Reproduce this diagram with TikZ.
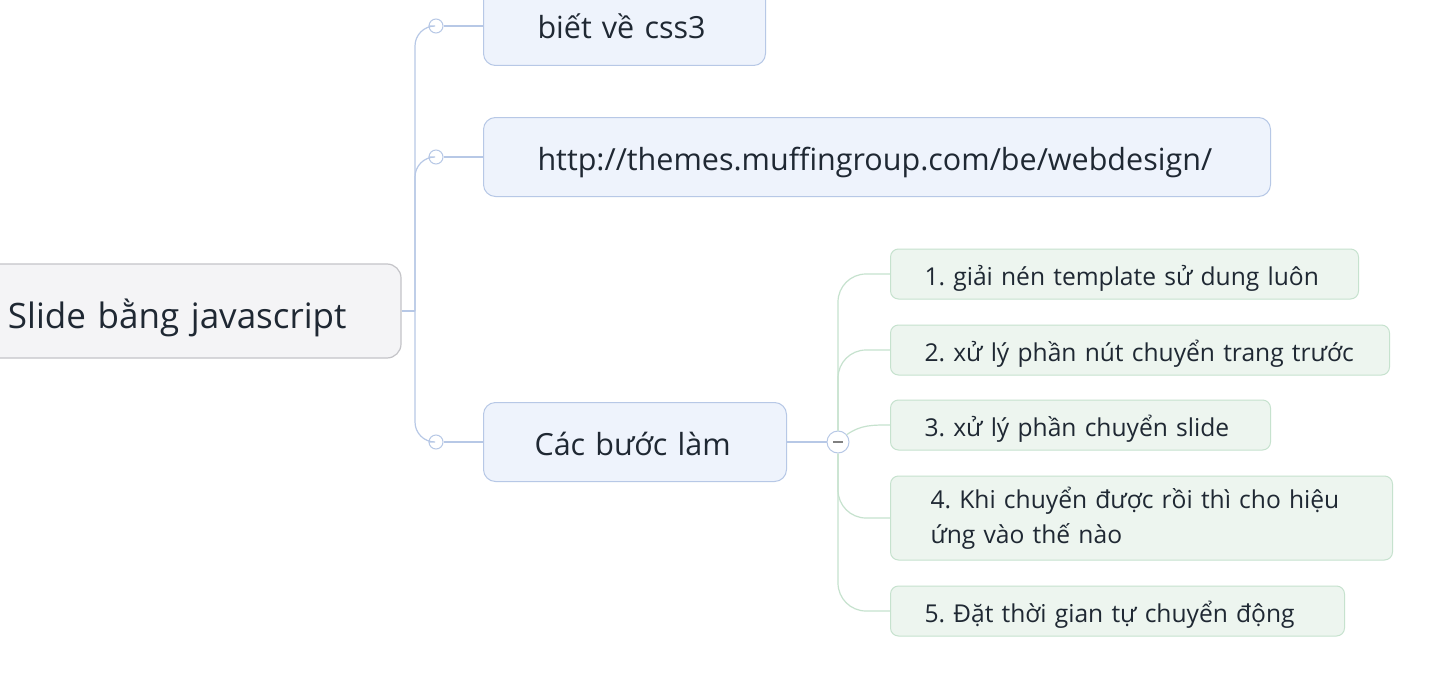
\documentclass[tikz,border=0pt]{standalone}
\usepackage{fontspec}
\setmainfont{Open Sans}
\frenchspacing
\definecolor{rootfill}{HTML}{F4F4F6}
\definecolor{rootline}{HTML}{C4C4C8}
\definecolor{topicfill}{HTML}{EEF3FC}
\definecolor{topicline}{HTML}{B7C8E6}
\definecolor{stepfill}{HTML}{EDF5EF}
\definecolor{stepline}{HTML}{C6E2CE}
\definecolor{inkdark}{HTML}{1F2833}

\begin{document}
\begin{tikzpicture}[x=1pt, y=-1pt,
        every node/.style={text=inkdark},
        rootbox/.style={draw=rootline, fill=rootfill, rounded corners=14pt, line width=1.2pt,
            inner xsep=53pt, inner ysep=0pt, minimum height=94pt, align=left,
            text height=34pt, text depth=0pt, font=\fontsize{35}{40}\selectfont},
        topicbox/.style={draw=topicline, fill=topicfill, rounded corners=12pt, line width=1pt,
            inner xsep=54pt, inner ysep=0pt, minimum height=79pt, align=left, anchor=west,
            text height=26pt, text depth=0pt, font=\fontsize{30.5}{34}\selectfont},
        stepbox/.style={draw=stepline, fill=stepfill, rounded corners=8pt, line width=1pt,
            inner xsep=34pt, inner ysep=0pt, minimum height=50pt, align=left, anchor=west,
            text height=22pt, text depth=0pt, font=\fontsize{24.6}{35}\selectfont},
        knob/.style={circle, draw=topicline, fill=white, line width=1pt, inner sep=0pt, minimum size=14pt},
        fold/.style={circle, draw=topicline, fill=white, line width=1pt, inner sep=0pt, minimum size=22pt},
        blueline/.style={draw=topicline, line width=1.2pt},
        greenline/.style={draw=stepline, line width=1.2pt}]
    \clip (0,0) rectangle (1448,693);
    \fill[white] (0,0) rectangle (1448,693);
    \useasboundingbox (0,0) rectangle (1448,693);

    % root and first level
    \node[rootbox, text width=340pt] (root) at (178,311) {Slide bằng javascript};
    \node[topicbox, text width=174pt] (css) at (483,26) {biết về css3};
    \node[topicbox, text width=679pt] (link) at (483,157) {http://themes.muffingroup.com/be/webdesign/};
    \node[topicbox, text width=201pt, inner xsep=51pt] (steps) at (483,442) {Các bước làm};

    \coordinate (jn) at (415,311);
    \node[knob] (k1) at (436,26) {};
    \node[knob] (k2) at (436,157) {};
    \node[knob] (k3) at (436,442) {};

    \draw[blueline] (root.east) -- (jn);
    \draw[blueline, rounded corners=20pt] (jn) |- (k1);
    \draw[blueline, rounded corners=20pt] (jn) |- (k2);
    \draw[blueline, rounded corners=20pt] (jn) |- (k3);
    \foreach \k/\t in {k1/css, k2/link, k3/steps}
        \draw[blueline] (\k) -- (\t);

    % second level
    \node[stepbox, text width=400pt] (s1) at (890,274) {1. giải nén template sử dung luôn};
    \node[stepbox, text width=431pt] (s2) at (890,350) {2. xử lý phần nút chuyển trang trước};
    \node[stepbox, text width=312pt] (s3) at (890,425) {3. xử lý phần chuyển slide};
    \node[stepbox, text width=422pt, inner xsep=40pt, minimum height=84pt, text height=, text depth=]
        (s4) at (890,518) {4. Khi chuyển được rồi thì cho hiệu\\ứng vào thế nào};
    \node[stepbox, text width=386pt] (s5) at (890,611) {5. Đặt thời gian tự chuyển động};

    \node[fold] (fd) at (838,442) {};
    \draw[blueline] (steps) -- (fd);
    \draw[greenline, rounded corners=28pt] (fd.north) |- (s1.west);
    \draw[greenline, rounded corners=28pt] (fd.north) |- (s2.west);
    \draw[greenline] (fd.40) to[out=35, in=180] (s3.west);
    \draw[greenline, rounded corners=28pt] (fd.south) |- (s4.west);
    \draw[greenline, rounded corners=28pt] (fd.south) |- (s5.west);
    \draw[draw=gray, line width=1.2pt] ([xshift=-5pt]fd.center) -- ([xshift=5pt]fd.center);
\end{tikzpicture}
\end{document}
